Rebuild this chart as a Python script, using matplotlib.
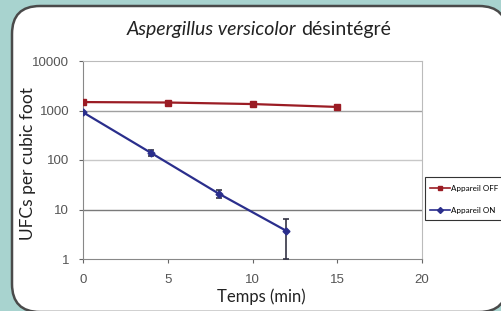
import matplotlib
matplotlib.use("Agg")
import matplotlib.pyplot as plt
from matplotlib.patches import FancyBboxPatch, Rectangle

time_off = [0, 5, 10, 15]
ufc_off = [1480, 1450, 1350, 1180]
time_on = [0, 4, 8, 12]
ufc_on = [920, 140, 21, 3.7]
err_on = [0, 22, 4, 2.7]
xticks = [0, 5, 10, 15, 20]
yticks = [1, 10, 100, 1000, 10000]
ytick_labels = ["1", "10", "100", "1000", "10000"]

W, H = 501, 311
fig = plt.figure(figsize=(W / 100, H / 100), dpi=100)
fig.patch.set_facecolor("#a8d3cf")

bg = fig.add_axes([0, 0, 1, 1])
bg.set_xlim(0, W)
bg.set_ylim(H, 0)
bg.axis("off")
panel = FancyBboxPatch((12, 6), 495, 306, boxstyle="round,pad=0,rounding_size=28",
                       facecolor="white", edgecolor="#4a4a4a", linewidth=1.8)
bg.add_patch(panel)
bg.add_patch(Rectangle((425, 177), 90, 43, facecolor="white", edgecolor="#333333",
                       linewidth=0.8))

ax = fig.add_axes([83 / W, 1 - 259 / H, (422 - 83) / W, (259 - 61) / H])
ax.set_yscale("log")
ax.set_xlim(0, 20)
ax.set_ylim(1, 10000)
ax.set_facecolor("white")

for yv, c in [(10, "#7a7a7a"), (100, "#c8c8c8"), (1000, "#a0a0a0")]:
    ax.axhline(yv, color=c, linewidth=1.0, zorder=1)

ax.plot(time_off, ufc_off, color="#9b1c24", marker="s", markersize=4,
        linewidth=1.6, label="Appareil OFF", zorder=3)
ax.errorbar(time_on, ufc_on, yerr=err_on, fmt="none", ecolor="#333344",
            elinewidth=1.2, capsize=2.5, capthick=1.2, zorder=3)
ax.plot(time_on, ufc_on, color="#2a2e8c", marker="D", markersize=3.5,
        linewidth=1.6, label="Appareil ON", zorder=4)

ax.set_xticks(xticks)
ax.set_yticks(yticks)
ax.set_yticklabels(ytick_labels)
ax.minorticks_off()
ax.tick_params(axis="both", labelsize=9.5, colors="#666666", length=3, width=0.8,
               labelcolor="#555555")
for lab in ax.get_xticklabels() + ax.get_yticklabels():
    lab.set_family("Liberation Sans")
ax.tick_params(axis="x", pad=8)
ax.tick_params(axis="y", pad=7)
for s in ["top", "right"]:
    ax.spines[s].set_color("#bbbbbb")
for s in ["left", "bottom"]:
    ax.spines[s].set_color("#888888")

ax.set_xlabel("Temps (min)", fontsize=12, family="Lato", color="#222222")
ax.xaxis.set_label_coords((261 - 83) / 339, (259 - 297) / 198)
ax.xaxis.label.set_va("center")
ax.set_ylabel("UFCs per cubic foot", fontsize=12.5, family="Lato", color="#222222")
ax.yaxis.set_label_coords((28 - 83) / 339, (259 - 164) / 198)
ax.yaxis.label.set_va("center")

t1 = fig.text(127 / W, 1 - 30 / H, "Aspergillus versicolor", fontsize=14, family="Lato",
              style="italic", ha="left", va="center", color="#222222")
fig.canvas.draw()
ext = t1.get_window_extent()
fig.text((ext.x1 + 5) / W, 1 - 30 / H, "désintégré", fontsize=14, family="Lato",
         ha="left", va="center", color="#222222")

leg = fig.legend(loc="upper left", bbox_to_anchor=(428 / W, 1 - 183 / H),
                 frameon=False,
                 handlelength=2.5, handletextpad=0.1, borderpad=0.2, labelspacing=1.9,
                 borderaxespad=0, prop={"family": "Lato", "size": 5.8})
for h in leg.legend_handles:
    h.set_markersize(3)
    h.set_linewidth(1.2)

fig.savefig("out.png", dpi=100, facecolor=fig.get_facecolor())
